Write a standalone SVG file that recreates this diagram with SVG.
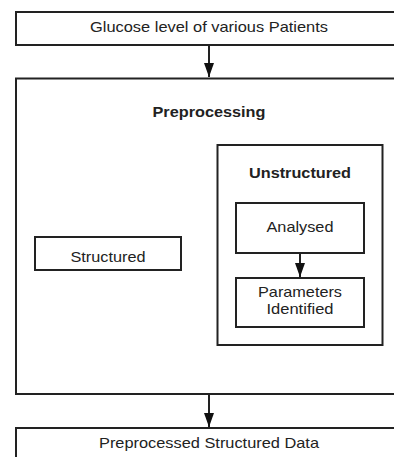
<svg xmlns="http://www.w3.org/2000/svg" width="394" height="457" viewBox="0 0 394 457">
<style>
.box{fill:#fff;stroke:#222;stroke-width:2}
.frame{fill:none;stroke:#222;stroke-width:2}
.t{font-family:"Liberation Sans",Arial,sans-serif;font-size:15px;fill:#222;text-anchor:middle}
.b{font-weight:bold}
.line{stroke:#222;stroke-width:2;fill:none}
</style>
<defs>
<marker id="ah" markerWidth="14" markerHeight="10" refX="14" refY="5" orient="auto" markerUnits="userSpaceOnUse" viewBox="0 0 14 10">
<path d="M0,0 L14,5 L0,10 Z" fill="#111"/>
</marker>
</defs>
<rect width="394" height="457" fill="#fff"/>
<g id="n-glucose">
<rect class="box" x="16" y="12" width="386" height="33"/>
<text class="t" x="209" y="32" textLength="238" lengthAdjust="spacingAndGlyphs">Glucose level of various Patients</text>
</g>
<g id="n-preprocessing">
<rect class="frame" x="16" y="78.5" width="386" height="315.5"/>
<text class="t b" x="209" y="116.5" textLength="113" lengthAdjust="spacingAndGlyphs">Preprocessing</text>
</g>
<g id="n-structured">
<rect class="box" x="35" y="237" width="146" height="33"/>
<text class="t" x="108" y="261.5" textLength="75" lengthAdjust="spacingAndGlyphs">Structured</text>
</g>
<g id="n-unstructured">
<rect class="frame" x="217.5" y="145" width="165" height="200"/>
<text class="t b" x="300" y="178" textLength="102" lengthAdjust="spacingAndGlyphs">Unstructured</text>
</g>
<g id="n-analysed">
<rect class="box" x="236" y="203" width="128" height="50"/>
<text class="t" x="300" y="231.5" textLength="67" lengthAdjust="spacingAndGlyphs">Analysed</text>
</g>
<g id="n-parameters">
<rect class="box" x="236" y="278" width="128" height="49"/>
<text class="t" x="300" y="297.3" textLength="84" lengthAdjust="spacingAndGlyphs">Parameters</text>
<text class="t" x="300" y="314.3" textLength="67" lengthAdjust="spacingAndGlyphs">Identified</text>
</g>
<g id="n-output">
<rect class="box" x="16" y="428" width="386" height="40"/>
<text class="t" x="209" y="448.3" textLength="220" lengthAdjust="spacingAndGlyphs">Preprocessed Structured Data</text>
</g>
<g id="connectors">
<line class="line" x1="209" y1="45" x2="209" y2="77" marker-end="url(#ah)"/>
<line class="line" x1="300" y1="253" x2="300" y2="277" marker-end="url(#ah)"/>
<line class="line" x1="209" y1="394" x2="209" y2="427" marker-end="url(#ah)"/>
</g>
</svg>
